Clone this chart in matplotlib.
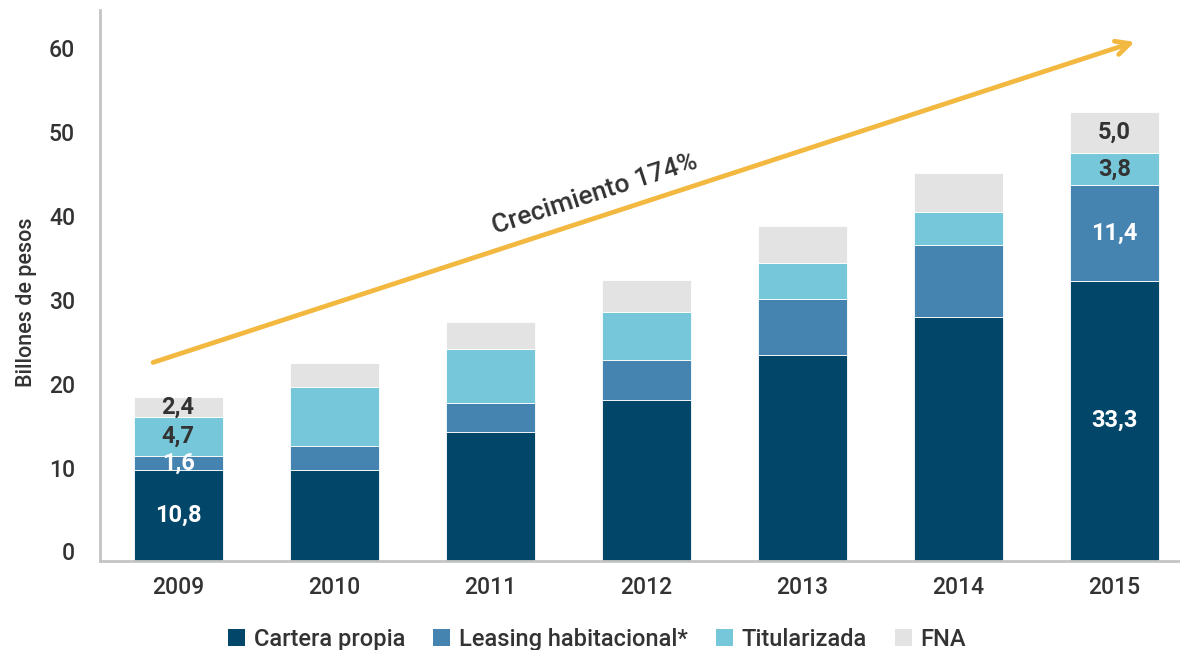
import numpy as np
import matplotlib
matplotlib.use("Agg")
import matplotlib.pyplot as plt
import matplotlib.transforms as mtransforms
from matplotlib.patches import Patch

# values (billones de pesos)
years = ["2009", "2010", "2011", "2012", "2013", "2014", "2015"]
cartera = [10.8, 10.8, 15.3, 19.1, 24.5, 29.0, 33.3]
leasing = [1.6, 2.8, 3.5, 4.8, 6.7, 8.6, 11.4]
titularizada = [4.7, 7.1, 6.4, 5.7, 4.2, 3.9, 3.8]
fna = [2.4, 2.8, 3.2, 3.8, 4.5, 4.7, 5.0]

series_names = ["Cartera propia", "Leasing habitacional*", "Titularizada", "FNA"]
colors = ["#02476A", "#4583B1", "#75C7D9", "#E3E3E3"]
label_colors = ["white", "white", "#333333", "#333333"]
# which segments carry a value label: (year index, series index)
labelled = [(0, 0), (0, 1), (0, 2), (0, 3), (6, 0), (6, 1), (6, 2), (6, 3)]

growth_text = "Crecimiento 174%"
arrow_start = (-0.16, 23.6)
arrow_end = (6.13, 61.8)

plt.rcParams['font.family'] = ['Roboto', 'DejaVu Sans']

fig = plt.figure(figsize=(11.8, 6.5), dpi=100)
ax = fig.add_axes([100 / 1180, 1 - 560.5 / 650, 1080 / 1180, 550.5 / 650])

x = np.arange(len(years))
data = [cartera, leasing, titularizada, fna]
bottom = np.zeros(len(years))
for vals, col in zip(data, colors):
    ax.bar(x, vals, width=0.57, bottom=bottom, color=col, edgecolor='white', linewidth=0.6)
    bottom += np.array(vals)

# segment labels
for yi, si in labelled:
    base = sum(data[k][yi] for k in range(si))
    v = data[si][yi]
    ax.text(x[yi], base + v / 2, f"{v:.1f}".replace(".", ","), ha='center', va='center',
            color=label_colors[si], fontsize=17, fontweight='bold')

ax.set_xlim(-0.5, 6.42)
ax.set_ylim(0, 65.6)
ax.set_yticks(np.arange(0, 61, 10))
ax.set_xticks(x)
ax.set_xticklabels(years)
ax.tick_params(axis='both', length=0, labelsize=16.5, colors='#333333')
ax.tick_params(axis='y', pad=18)
ax.tick_params(axis='x', pad=11)
offset = mtransforms.ScaledTranslation(0, 0.09, fig.dpi_scale_trans)
for lab in ax.get_yticklabels():
    lab.set_transform(lab.get_transform() + offset)
for lab in ax.get_yticklabels() + ax.get_xticklabels():
    lab.set_fontweight('medium')

for s in ['top', 'right']:
    ax.spines[s].set_visible(False)
for s in ['left', 'bottom']:
    ax.spines[s].set_color('#C4C4C4')
    ax.spines[s].set_linewidth(2)

ax.set_ylabel("Billones de pesos", fontsize=15.5, color='#333333', fontweight='medium')
ax.yaxis.set_label_coords(-0.058, 0.47)

# growth arrow
ax.annotate("", xy=arrow_end, xytext=arrow_start,
            arrowprops=dict(arrowstyle='->,head_length=1.0,head_width=0.5',
                            color='#F2B840', lw=3.4, shrinkA=0, shrinkB=0))
ax.text(2.67, 43.6, growth_text, rotation=18, rotation_mode='anchor',
        ha='center', va='center', fontsize=19, color='#333333', fontweight='medium')

handles = [Patch(facecolor=c, edgecolor='none') for c in colors]
fig.legend(handles, series_names, loc='center', bbox_to_anchor=(0.506, 0.016),
           ncol=4, frameon=False, fontsize=17, handlelength=0.72, handleheight=0.72,
           handletextpad=0.35, columnspacing=1.2, labelcolor='#333333',
           prop={'size': 17, 'weight': 'medium'})

fig.savefig("out.png", dpi=100)
